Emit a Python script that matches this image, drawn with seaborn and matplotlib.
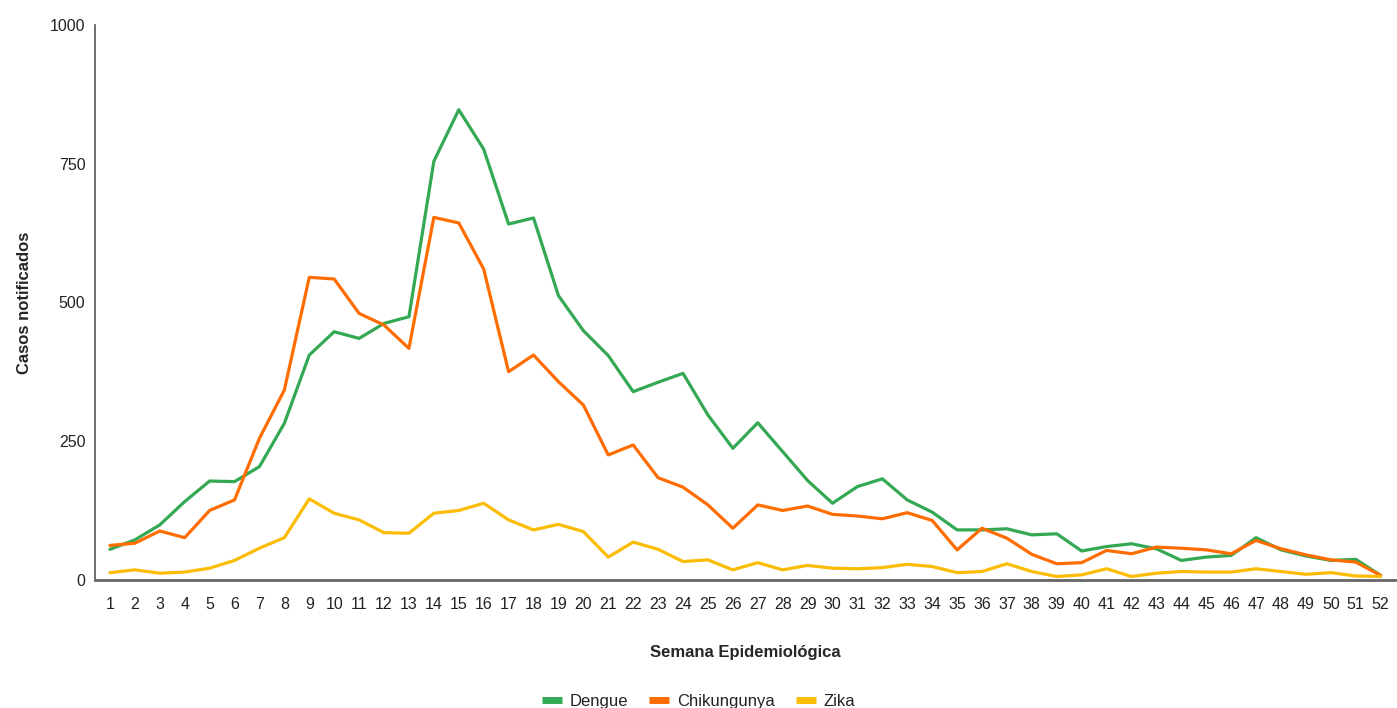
import numpy as np
import pandas as pd
import matplotlib
matplotlib.use("Agg")
import matplotlib.pyplot as plt
from matplotlib.lines import Line2D
import seaborn as sns

# Semanas epidemiologicas e casos notificados
semanas = list(range(1, 53))
dengue = [55, 72, 99, 141, 178, 177, 204, 282, 405, 447, 435, 462, 474,
          754, 847, 776, 641, 652, 512, 449, 404, 339, 356, 372, 297, 237,
          283, 231, 179, 138, 168, 182, 144, 122, 90, 90, 92, 81, 83, 52,
          60, 65, 56, 35, 41, 44, 76, 54, 43, 35, 37, 8]
chikungunya = [62, 66, 88, 76, 125, 144, 255, 342, 545, 542, 480, 459, 417,
               653, 643, 560, 375, 405, 357, 315, 225, 243, 184, 167, 135, 93,
               135, 125, 133, 118, 115, 110, 121, 107, 54, 93, 75, 46, 29, 31,
               53, 47, 59, 57, 54, 47, 71, 56, 45, 36, 32, 8]
zika = [13, 18, 12, 14, 21, 35, 57, 76, 146, 120, 108, 85, 84,
        120, 125, 138, 108, 90, 100, 87, 41, 68, 55, 33, 36, 18,
        31, 18, 26, 21, 20, 22, 28, 24, 13, 15, 29, 15, 6, 9,
        20, 6, 12, 15, 14, 14, 20, 15, 10, 13, 7, 6]

doencas = ["Dengue", "Chikungunya", "Zika"]
cores = ["#34a853", "#ff6d01", "#fbbc04"]

df = pd.DataFrame({
    "Semana": semanas * 3,
    "Casos": dengue + chikungunya + zika,
    "Doenca": sum([[d] * len(semanas) for d in doencas], []),
})

sns.set_theme(style="white")
plt.rcParams["font.family"] = ["Liberation Sans", "DejaVu Sans"]

fig = plt.figure(figsize=(13.97, 7.08), dpi=100)
ax = fig.add_axes([0.068, 0.181, 0.931, 0.784])

sns.lineplot(data=df, x="Semana", y="Casos", hue="Doenca", hue_order=doencas,
             palette=cores, linewidth=2.3, ax=ax, legend=False)

ax.set_xlim(0.4, 52.6)
ax.set_ylim(0, 1000)
ax.set_xticks(semanas)
ax.set_yticks([0, 250, 500, 750, 1000])
ax.tick_params(axis="x", length=0, pad=12, labelsize=11.5, labelcolor="#222222")
ax.tick_params(axis="y", length=0, pad=7, labelsize=11.5, labelcolor="#222222")

for s in ["top", "right"]:
    ax.spines[s].set_visible(False)
ax.spines["left"].set_color("#555555")
ax.spines["left"].set_linewidth(1.2)
ax.spines["bottom"].set_color("#666666")
ax.spines["bottom"].set_linewidth(2)

ax.set_xlabel("Semana Epidemiológica", fontsize=12, fontweight="bold", labelpad=24)
ax.set_ylabel("Casos notificados", fontsize=12, fontweight="bold", labelpad=13)

handles = [Line2D([0], [0], color=c, lw=5, solid_capstyle="butt") for c in cores]
fig.legend(handles, doencas, loc="lower center", bbox_to_anchor=(0.5, -0.022),
           ncol=3, frameon=False, fontsize=12, handlelength=1.2,
           columnspacing=1.3, handletextpad=0.45, labelcolor="#222222")

fig.savefig("out.png", dpi=100)
